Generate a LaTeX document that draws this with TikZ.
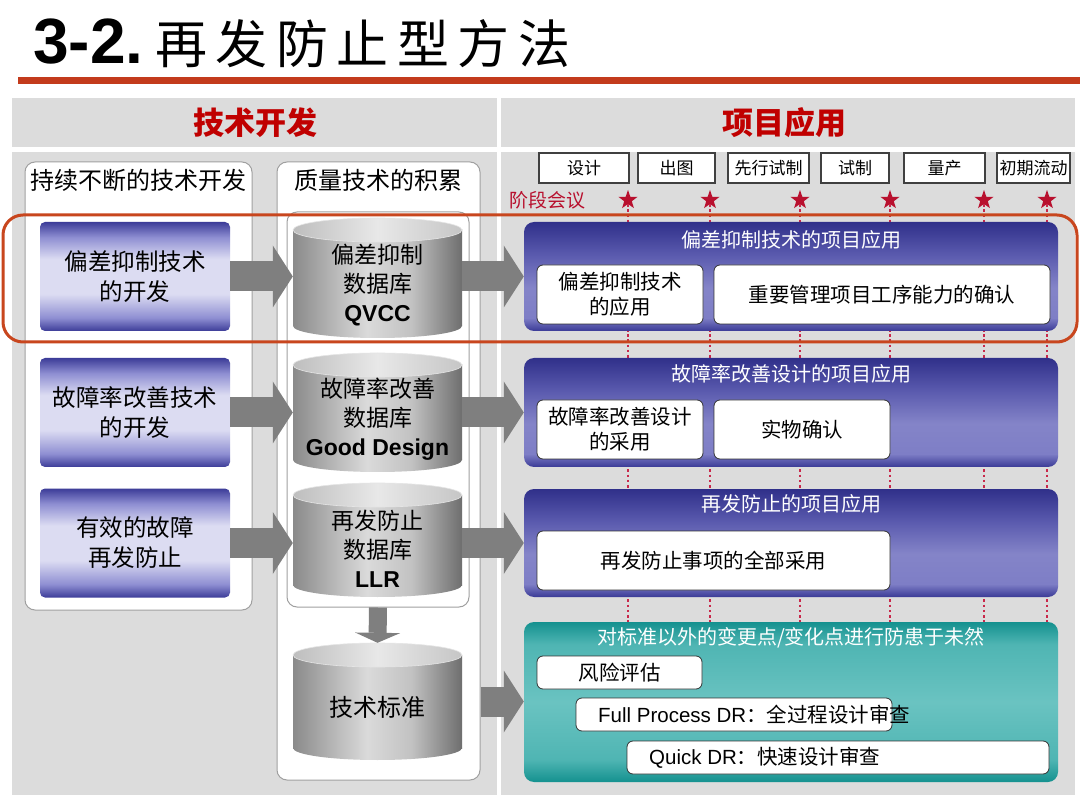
\documentclass[tikz,border=0pt]{standalone}
\usepackage{fontspec}
\setmainfont{Noto Sans CJK SC}
\newfontfamily\ar{Liberation Sans}
\usetikzlibrary{arrows.meta,shapes.geometric}

\definecolor{bg}{HTML}{DCDCDC}
\definecolor{redbar}{HTML}{C33B1C}
\definecolor{hdred}{HTML}{C00000}
\definecolor{stared}{HTML}{B8102E}
\definecolor{dotred}{HTML}{C8284A}
\definecolor{boxline}{HTML}{A0A0A0}
\definecolor{arrowgray}{HTML}{7F7F7F}
\definecolor{hlred}{HTML}{C8461E}
\definecolor{lbD}{HTML}{3C3C98}
\definecolor{lbM}{HTML}{8E8ED2}
\definecolor{lbL}{HTML}{DCDCF2}
\definecolor{rbA}{HTML}{3A3A96}
\definecolor{rbB}{HTML}{7E7EC6}
\definecolor{rbC}{HTML}{8484C8}
\definecolor{rbD}{HTML}{5A5AAE}
\definecolor{rbE}{HTML}{30308A}
\definecolor{tlA}{HTML}{14918F}
\definecolor{tlB}{HTML}{4FB5B3}
\definecolor{tlC}{HTML}{6AC3C1}
\definecolor{cyA}{HTML}{8A8A8A}
\definecolor{cyB}{HTML}{C2C2C2}
\definecolor{cyC}{HTML}{DADADA}
\definecolor{cyD}{HTML}{6E6E6E}
\definecolor{ctA}{HTML}{BEBEBE}
\definecolor{ctB}{HTML}{E8E8E8}
\definecolor{ctC}{HTML}{C6C6C6}

% TikZ maps the path box onto 25bp..75bp of a 100bp shading
\pgfdeclareverticalshading{leftblue}{100bp}{color(0bp)=(lbD); color(25bp)=(lbD); color(31bp)=(lbM); color(42bp)=(lbL); color(58bp)=(lbL); color(68bp)=(lbM); color(75bp)=(lbD); color(100bp)=(lbD)}
\pgfdeclareverticalshading{rightblue}{100bp}{color(0bp)=(rbA); color(25bp)=(rbA); color(31bp)=(rbB); color(45bp)=(rbC); color(60bp)=(rbD); color(75bp)=(rbE); color(100bp)=(rbE)}
\pgfdeclareverticalshading{tealpanel}{100bp}{color(0bp)=(tlA); color(25bp)=(tlA); color(32bp)=(tlB); color(50bp)=(tlC); color(68bp)=(tlB); color(75bp)=(tlA); color(100bp)=(tlA)}
\pgfdeclarehorizontalshading{cylbody}{100bp}{color(0bp)=(cyA); color(25bp)=(cyA); color(40bp)=(cyB); color(47bp)=(cyC); color(60bp)=(cyB); color(75bp)=(cyD); color(100bp)=(cyD)}
\pgfdeclarehorizontalshading{cyltop}{100bp}{color(0bp)=(ctA); color(25bp)=(ctA); color(50bp)=(ctB); color(75bp)=(ctC); color(100bp)=(ctC)}

\newcommand\mycyl[2]{%
  \shade[shading=cylbody] (293,#1) rectangle (462,#2);
  \shade[shading=cylbody] (377.5,#2) ellipse [x radius=84.5, y radius=12];
  \shade[shading=cyltop] (377.5,#1) ellipse [x radius=84.5, y radius=12];
  \draw[white!80!gray, line width=0.6pt] (377.5,#1) ellipse [x radius=84.5, y radius=12];
}

\begin{document}
\begin{tikzpicture}[x=1pt,y=-1pt,
  txt/.style={inner sep=0pt, align=center},
  colbox/.style={draw=boxline, fill=white, line width=1pt, rounded corners=10pt, inner sep=0pt},
  lbox/.style={shade, shading=leftblue, rounded corners=5pt, minimum width=190pt, minimum height=109pt, inner sep=0pt, align=center, font=\fontsize{23.5}{30}\selectfont},
  cylnode/.style={inner sep=0pt, minimum width=169pt},
  rpanel/.style={shade, shading=rightblue, rounded corners=10pt, minimum width=534pt, inner sep=0pt},
  tpanel/.style={shade, shading=tealpanel, rounded corners=10pt, minimum width=534pt, inner sep=0pt},
  ptitle/.style={inner sep=0pt, text=white, font=\fontsize{20}{24}\selectfont},
  wbox/.style={draw=black!80, fill=white, line width=0.8pt, rounded corners=6pt, inner sep=0pt, align=center, font=\fontsize{20.5}{25}\selectfont},
  phase/.style={draw=black!75, fill=white, line width=1.2pt, minimum height=30pt, inner sep=0pt, font=\fontsize{17}{20}\selectfont},
  stardot/.style={star, star points=5, star point ratio=2.5, fill=stared, minimum size=20pt, inner sep=0pt},
  dotline/.style={dotred, line width=2.4pt, dash pattern=on 2.6pt off 2.6pt},
  blockarrow/.style={arrowgray, line width=30pt, -{Triangle[width=62pt, length=20pt, line width=0pt]}},
  downarrow/.style={arrowgray, line width=18pt, -{Triangle[width=45pt, length=10pt, line width=0pt]}}
]
\useasboundingbox (0,0) rectangle (1080,810);
\fill[white] (0,0) rectangle (1080,810);

% title
\node[anchor=base west, inner sep=0pt, font=\fontsize{64}{70}\selectfont\ar\bfseries] (tnum) at (33,64) {3-2.};
\node[anchor=base west, inner sep=0pt, font=\fontsize{52}{60}\selectfont] (ttl) at (155,64) {再\hspace{8.5pt}发\hspace{8.5pt}防\hspace{8.5pt}止\hspace{8.5pt}型\hspace{8.5pt}方\hspace{8.5pt}法};
\fill[redbar] (18,77) rectangle (1080,84);

% gray panels
\fill[bg] (12,98) rectangle (497,147);
\fill[bg] (501,98) rectangle (1075,147);
\fill[bg] (12,152) rectangle (497,795);
\fill[bg] (501,152) rectangle (1075,795);

\node[txt, text=hdred, font=\fontsize{31}{36}\selectfont\bfseries] (h1) at (255,123) {技术开发};
\node[txt, text=hdred, font=\fontsize{31}{36}\selectfont\bfseries] (h2) at (784,123) {项目应用};

% column boxes
\node[colbox, minimum width=227pt, minimum height=448pt] (L) at (138.5,386) {};
\node[colbox, minimum width=203pt, minimum height=618pt] (M) at (378.5,471) {};
\node[colbox, minimum width=182pt, minimum height=395pt] (I) at (378,409.5) {};
\node[txt, font=\fontsize{24}{28}\selectfont] (Lt) at (138.5,180) {持续不断的技术开发};
\node[txt, font=\fontsize{24}{28}\selectfont] (Mt) at (378.5,180) {质量技术的积累};

% left boxes
\node[lbox] (l1) at (135,276.5) {偏差抑制技术\\的开发};
\node[lbox] (l2) at (135,412.5) {故障率改善技术\\的开发};
\node[lbox] (l3) at (135,543) {有效的故障\\再发防止};

% cylinders
\mycyl{230}{326}
\mycyl{365}{460}
\mycyl{495}{585}
\mycyl{655}{748}
\node[cylnode, minimum height=120pt] (c1) at (377.5,278) {};
\node[cylnode, minimum height=119pt] (c2) at (377.5,412.5) {};
\node[cylnode, minimum height=114pt] (c3) at (377.5,540) {};
\node[cylnode, minimum height=117pt] (c4) at (377.5,701.5) {};
\node[txt, font=\fontsize{23}{29}\selectfont] (c1t) at (377.5,285) {偏差抑制\\数据库\\{\ar\bfseries QVCC}};
\node[txt, font=\fontsize{23}{29}\selectfont] (c2t) at (377.5,419) {故障率改善\\数据库\\{\ar\bfseries Good Design}};
\node[txt, font=\fontsize{23}{29}\selectfont] (c3t) at (377.5,549) {再发防止\\数据库\\{\ar\bfseries LLR}};
\node[txt, font=\fontsize{24}{28}\selectfont] (c4t) at (377.5,707) {技术标准};

% phases
\node[phase, minimum width=90pt] (ph1) at (584,168) {设计};
\node[phase, minimum width=77pt] (ph2) at (676.5,168) {出图};
\node[phase, minimum width=81pt] (ph3) at (768.5,168) {先行试制};
\node[phase, minimum width=68pt] (ph4) at (855,168) {试制};
\node[phase, minimum width=81pt] (ph5) at (944.5,168) {量产};
\node[phase, minimum width=73pt] (ph6) at (1033.5,168) {初期流动};
\node[txt, text=stared, font=\fontsize{19}{22}\selectfont] (meet) at (547,200) {阶段会议};

\node[stardot] (s1) at (628,200) {};
\node[stardot] (s2) at (710,200) {};
\node[stardot] (s3) at (800,200) {};
\node[stardot] (s4) at (890,200) {};
\node[stardot] (s5) at (984,200) {};
\node[stardot] (s6) at (1047,200) {};
\coordinate (dend) at (0,622);
\foreach \s in {s1,s2,s3,s4,s5,s6}
  \draw[dotline] (\s.south) -- (\s.south |- dend);

% right panels
\node[rpanel, minimum height=109pt] (p1) at (791,276.5) {};
\node[rpanel, minimum height=109pt] (p2) at (791,412.5) {};
\node[rpanel, minimum height=108pt] (p3) at (791,543) {};
\node[tpanel, minimum height=160pt] (p4) at (791,702) {};

\node[ptitle] (p1t) at (791,240) {偏差抑制技术的项目应用};
\node[ptitle] (p2t) at (791,374) {故障率改善设计的项目应用};
\node[ptitle] (p3t) at (791,504) {再发防止的项目应用};
\node[ptitle] (p4t) at (791,638) {对标准以外的变更点/变化点进行防患于未然};

\node[wbox, minimum width=166pt, minimum height=59pt] (p1a) at (620,294.5) {偏差抑制技术\\的应用};
\node[wbox, minimum width=336pt, minimum height=59pt] (p1b) at (882,294.5) {重要管理项目工序能力的确认};
\node[wbox, minimum width=166pt, minimum height=59pt] (p2a) at (620,429.5) {故障率改善设计\\的采用};
\node[wbox, minimum width=176pt, minimum height=59pt] (p2b) at (802,429.5) {实物确认};
\node[wbox, minimum width=353pt, minimum height=59pt] (p3a) at (713.5,560.5) {再发防止事项的全部采用};
\node[wbox, minimum width=165pt, minimum height=33pt] (p4a) at (619.5,672.5) {风险评估};
\node[wbox, minimum width=316pt, minimum height=33pt] (p4b) at (734,714.5) {};
\node[wbox, minimum width=422pt, minimum height=33pt] (p4c) at (838,757.5) {};
\node[anchor=west, inner sep=0pt, font=\fontsize{20.5}{25}\selectfont] (p4bt) at (598,714.5) {{\ar Full Process DR}：全过程设计审查};
\node[anchor=west, inner sep=0pt, font=\fontsize{20.5}{25}\selectfont] (p4ct) at (649,757.5) {{\ar Quick DR}：快速设计审查};

% block arrows
\draw[blockarrow] (l1.east) -- (l1.east -| c1.west);
\draw[blockarrow] (l2.east) -- (l2.east -| c2.west);
\draw[blockarrow] (l3.east) -- (l3.east -| c3.west);
\draw[blockarrow] (l1.east -| c1.east) -- (l1.east -| p1.west);
\draw[blockarrow] (l2.east -| c2.east) -- (l2.east -| p2.west);
\draw[blockarrow] (l3.east -| c3.east) -- (l3.east -| p3.west);
\draw[blockarrow] (c4.east -| M.east) -- (c4.east -| p4.west);
\draw[downarrow] (I.south) -- (c4.north);

% highlight
\draw[hlred, line width=3pt, rounded corners=20pt] (3,215) rectangle (1077,342);
\end{tikzpicture}
\end{document}
